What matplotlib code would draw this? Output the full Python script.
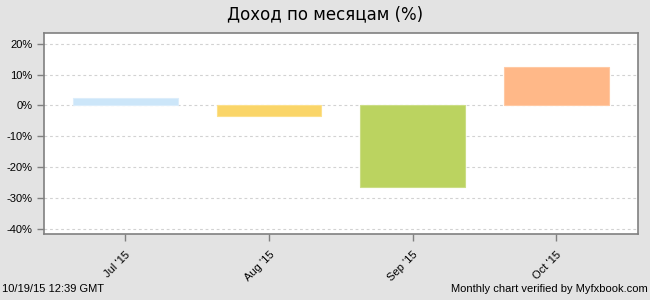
import matplotlib
matplotlib.use("Agg")
import matplotlib.pyplot as plt
from matplotlib.ticker import FuncFormatter

# monthly gain, percent
months = ["Jul '15", "Aug '15", "Sep '15", "Oct '15"]
gains = [2.3, -3.3, -26.3, 12.3]
bar_colors = ["#cce6f9", "#fad568", "#bbd360", "#ffb888"]
edge_colors = ["#dcedfb", "#fce08c", "#cbdd85", "#ffc9a3"]
yticks = [20, 10, 0, -10, -20, -30, -40]

plt.rcParams["font.family"] = ["Liberation Sans", "DejaVu Sans"]

fig = plt.figure(figsize=(6.5, 3.0), dpi=100, facecolor="#e3e3e3")
ax = fig.add_axes([0.0682, 0.22, 0.9129, 0.671])
ax.set_facecolor("white")

x = range(len(months))
ax.bar(x, gains, width=0.73, color=bar_colors, edgecolor=edge_colors,
       linewidth=0.8, zorder=3)

ax.set_xlim(-0.565, 3.567)
ax.set_ylim(-41.7, 23.57)
ax.set_yticks(yticks)
ax.yaxis.set_major_formatter(FuncFormatter(lambda v, p: "%d%%" % v))
ax.set_xticks(list(x))
ax.set_xticklabels(months, rotation=45, ha="right", rotation_mode="anchor")

ax.grid(axis="y", color="#d2d2d2", linestyle=(0, (2.5, 2.5)), linewidth=0.8, zorder=0)
for s in ax.spines.values():
    s.set_color("#808080")
    s.set_linewidth(1.2)
ax.tick_params(axis="both", colors="#808080", length=5, width=1, labelsize=8,
               labelcolor="black")
ax.tick_params(axis="x", pad=6)

fig.text(0.5, 0.953, "Доход по месяцам (%)", ha="center", va="center",
         fontsize=12, family="DejaVu Sans")
fig.text(0.003, 0.027, "10/19/15 12:39 GMT", ha="left", va="baseline", fontsize=8)
fig.text(0.996, 0.027, "Monthly chart verified by Myfxbook.com", ha="right",
         va="baseline", fontsize=8)

fig.savefig("out.png", dpi=100, facecolor=fig.get_facecolor())
